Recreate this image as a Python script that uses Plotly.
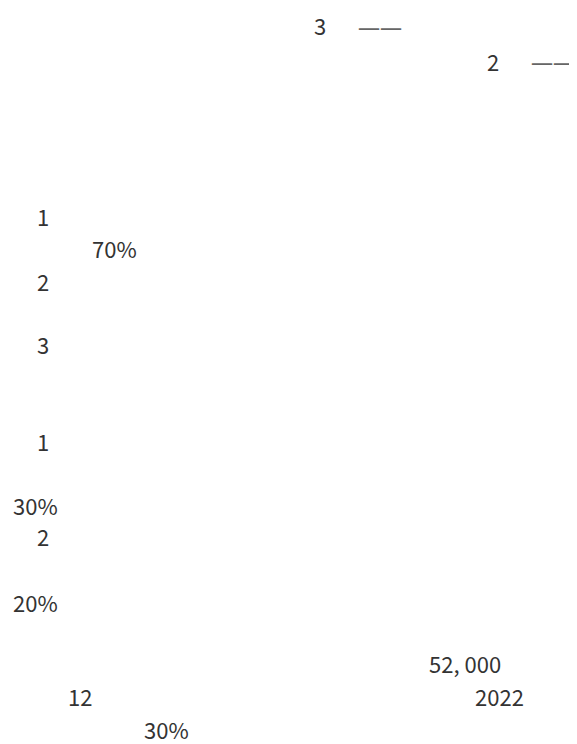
import plotly.graph_objects as go

# visible text fragments (top to bottom)
labels = ["3", "——", "2", "——",
          "1", "70%", "2", "3",
          "1", "30%", "2", "20%",
          "52, 000", "12", "2022", "30%"]

# placement of each fragment in pixels: left edge x, vertical centre y
pos_x = [304, 348, 477, 521,
         27, 82, 27, 27,
         27, 3, 27, 3,
         419, 58, 465, 134]
pos_y = [17, 18, 53, 53,
         208, 240, 273, 336,
         433, 497, 528, 594,
         655, 688, 688, 721]

W, H = 577, 744

fig = go.Figure()
for txt, px, py in zip(labels, pos_x, pos_y):
    is_dash = txt == "——"
    fig.add_annotation(
        x=px / W, y=1 - py / H, xref="paper", yref="paper",
        text=txt, showarrow=False, xanchor="left", yanchor="middle",
        font=dict(family="Noto Sans" if is_dash else "Noto Sans CJK SC",
                  size=22, color="#666" if is_dash else "#333"),
    )

fig.update_layout(
    width=W, height=H, autosize=False,
    margin=dict(l=0, r=0, t=0, b=0),
    paper_bgcolor="white", plot_bgcolor="white",
    xaxis=dict(visible=False, range=[0, 1]),
    yaxis=dict(visible=False, range=[0, 1]),
    showlegend=False,
)

fig.write_html("out.html")
